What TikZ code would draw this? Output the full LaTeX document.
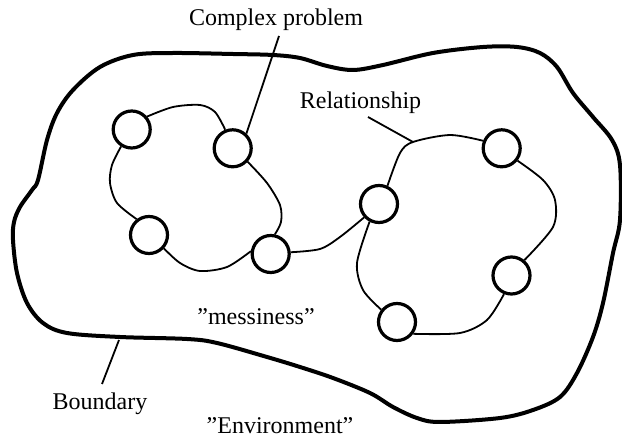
\documentclass[tikz,border=0pt]{standalone}
\usepackage{fontspec}
\setmainfont{Liberation Serif}
\begin{document}
\begin{tikzpicture}[x=1pt,y=-1pt,
  elem/.style={circle,draw,line width=3.2pt,minimum size=37pt,inner sep=0pt},
  link/.style={line width=1.8pt},
  bound/.style={line width=4pt},
  lbl/.style={anchor=base,inner sep=0pt,font=\fontsize{24}{28}\selectfont}]
\useasboundingbox (0,0) rectangle (622,438);
% boundary
\draw[bound] plot[smooth cycle,tension=0.55] coordinates {
(133,55) (173,53) (233,54) (273,55) (300,58) (327,66) (353,70) (383,65) (433,53) (483,47) (517,47) (540,53) (557,67) (573,93) (593,117) (612,140) (620,165) (620,220) (613,253) (603,303) (593,337) (577,373) (560,397) (533,410) (500,418) (440,422) (417,418) (393,407) (370,393) (333,378) (300,367) (267,357) (217,343) (187,339) (120,337) (67,333) (43,323) (27,303) (17,273) (13,240) (14,222) (20,207) (32,190) (38,180) (47,140) (57,113) (73,90) (100,67)};
% elements
\node[elem] (A) at (131.7,129.5) {};
\node[elem] (B) at (232.7,148.3) {};
\node[elem] (C) at (149,235) {};
\node[elem] (D) at (270.7,254) {};
\node[elem] (E) at (379,204) {};
\node[elem] (F) at (501.7,148.3) {};
\node[elem] (G) at (511.5,275.5) {};
\node[elem] (H) at (397,322) {};
% relationships
\draw[link] plot[smooth] coordinates {(A.40) (173,107) (200,105) (215,112) (B.112)};
\draw[link] plot[smooth] coordinates {(B.-42) (267,183) (280,205) (281,222) (D.78)};
\draw[link] plot[smooth] coordinates {(D.172) (227,267) (200,271) (180,263) (C.-42)};
\draw[link] plot[smooth] coordinates {(C.128) (117,203) (110,183) (112,165) (A.-122)};
\draw[link] plot[smooth] coordinates {(D.5) (320,249) (340,237) (E.-138)};
\draw[link] plot[smooth] coordinates {(E.65) (400,153) (413,142) (450,135) (F.158)};
\draw[link] plot[smooth] coordinates {(F.-38) (543,180) (555,200) (553,227) (G.50)};
\draw[link] plot[smooth] coordinates {(G.-112) (487,320) (460,333) (H.-36)};
\draw[link] plot[smooth] coordinates {(H.142) (363,290) (357,263) (E.-118)};
% labels
\node[lbl] (cp) at (276,26) {Complex problem};
\node[lbl] (rel) at (360.5,108.5) {Relationship};
\node[lbl] (mess) at (256,324.5) {”messiness”};
\node[lbl] (bnd) at (100,410) {Boundary};
\node[lbl] (env) at (280,434) {”Environment”};
% pointer lines
\coordinate (cpA) at (279,36);
\coordinate (relA) at (368,117);
\coordinate (relB) at (413,142);
\coordinate (bA) at (119,340);
\coordinate (bB) at (102,384);
\draw[link] (cpA) -- (B.47);
\draw[link] (relA) -- (relB);
\draw[link] (bA) -- (bB);
\end{tikzpicture}
\end{document}
